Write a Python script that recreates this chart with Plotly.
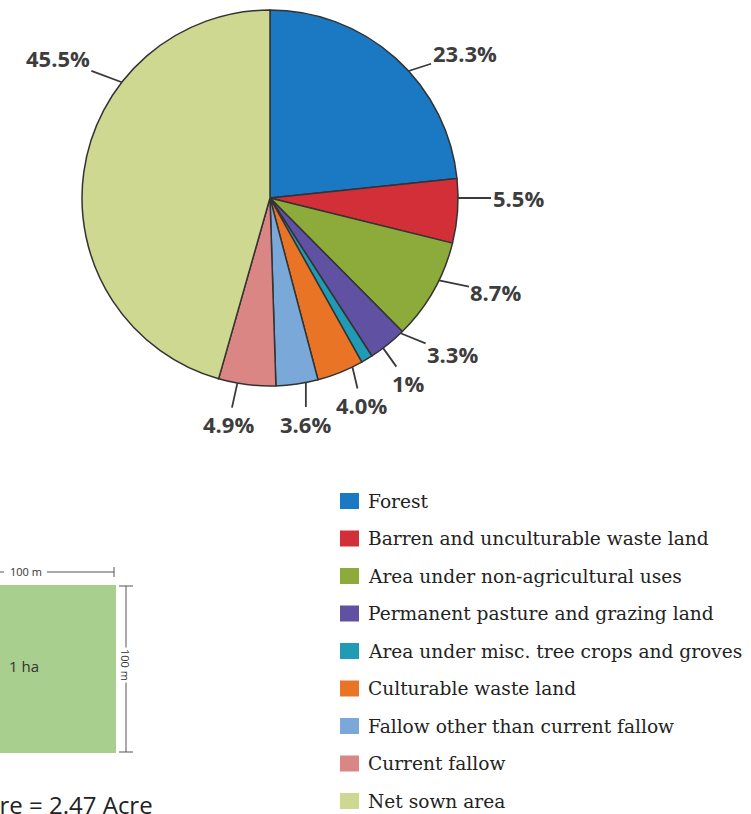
import math
import plotly.graph_objects as go

# ---------------- data ----------------
categories = [
    "Forest",
    "Barren and unculturable waste land",
    "Area under non-agricultural uses",
    "Permanent pasture and grazing land",
    "Area under misc. tree crops and groves",
    "Culturable waste land",
    "Fallow other than current fallow",
    "Current fallow",
    "Net sown area",
]
shares = [23.3, 5.5, 8.7, 3.3, 1.0, 4.0, 3.6, 4.9, 45.5]
share_labels = ["23.3%", "5.5%", "8.7%", "3.3%", "1%", "4.0%", "3.6%", "4.9%", "45.5%"]
colors = ["#1b78c2", "#d22f38", "#8dab3b", "#6151a3", "#1f9bb6",
          "#ea7426", "#7aa8d8", "#d98684", "#cfd891"]

hectare_text = "1 ha"
side_text = "100 m"
conversion_text = "1 Hectare = 2.47 Acre"

# ---------------- layout constants ----------------
W, H = 751, 814
CX, CY, R = 270, 198, 188          # pie centre / radius in pixels
# where each leader line meets the rim (deg clockwise from 12 o'clock) and label offset (px)
leader_angle = [47.5, 90, 116, 136, 143, 154, 169, 190, 308]
label_offset = [(56, -18), (60, 0), (57, 12), (52, 21), (25, 35), (9, 38), (0, 41), (-9, 41), (-64, -24)]


def px(x):
    return x / W


def py(y):
    return 1 - y / H


fig = go.Figure()
fig.add_trace(go.Pie(
    labels=categories,
    values=shares,
    sort=False,
    direction="clockwise",
    rotation=0,
    marker=dict(colors=colors, line=dict(color="#333333", width=1.5)),
    textinfo="none",
    hoverinfo="label+percent",
    showlegend=False,
    domain=dict(x=[px(CX - R), px(CX + R)], y=[py(CY + R), py(CY - R)]),
))

annotations = []
shapes = []

# pie labels with leader lines
for lab, ang, (ox, oy) in zip(share_labels, leader_angle, label_offset):
    a = math.radians(ang)
    ex = CX + R * math.sin(a)
    ey = CY - R * math.cos(a)
    annotations.append(dict(
        x=px(ex), y=py(ey), xref="paper", yref="paper",
        text=lab, showarrow=True, arrowhead=0, arrowwidth=1.8, arrowcolor="#3a3a3a",
        ax=ox, ay=oy, standoff=0, startstandoff=0,
        font=dict(family="Open Sans", size=22, color="#3d3d3d", weight=700),
    ))

# legend (manual)
LEG_Y0, LEG_DY = 501, 37.5
for i, (cat, col) in enumerate(zip(categories, colors)):
    yc = LEG_Y0 + i * LEG_DY
    shapes.append(dict(type="rect", xref="paper", yref="paper",
                       x0=px(340), x1=px(359), y0=py(yc + 8), y1=py(yc - 8),
                       fillcolor=col, line=dict(width=0)))
    annotations.append(dict(x=px(366), y=py(yc), xref="paper", yref="paper",
                            xanchor="left", yanchor="middle", showarrow=False,
                            text=cat, font=dict(family="DejaVu Serif", size=18.6, color="#222222")))

# 1 ha diagram
shapes.append(dict(type="rect", xref="paper", yref="paper",
                   x0=px(-5), x1=px(116), y0=py(753), y1=py(585),
                   fillcolor="#a9cf8e", line=dict(width=0)))
annotations.append(dict(x=px(24), y=py(666), xref="paper", yref="paper", showarrow=False,
                        xanchor="center", yanchor="middle",
                        text=hectare_text, font=dict(family="Open Sans", size=15, color="#333333")))
# top dimension
shapes.append(dict(type="line", xref="paper", yref="paper", x0=px(-2), x1=px(4), y0=py(572), y1=py(572),
                   line=dict(color="#555555", width=1)))
shapes.append(dict(type="line", xref="paper", yref="paper", x0=px(47), x1=px(114), y0=py(572), y1=py(572),
                   line=dict(color="#555555", width=1)))
shapes.append(dict(type="line", xref="paper", yref="paper", x0=px(114), x1=px(114), y0=py(567), y1=py(577),
                   line=dict(color="#555555", width=1)))
annotations.append(dict(x=px(26), y=py(571), xref="paper", yref="paper", showarrow=False,
                        xanchor="center", yanchor="middle",
                        text=side_text, font=dict(family="Open Sans", size=11, color="#333333")))
# right dimension
shapes.append(dict(type="line", xref="paper", yref="paper", x0=px(126), x1=px(126), y0=py(586), y1=py(752),
                   line=dict(color="#555555", width=1)))
for yy in (586, 752):
    shapes.append(dict(type="line", xref="paper", yref="paper", x0=px(119), x1=px(133), y0=py(yy), y1=py(yy),
                       line=dict(color="#555555", width=1)))
annotations.append(dict(x=px(126), y=py(665), xref="paper", yref="paper", showarrow=False,
                        xanchor="center", yanchor="middle",
                        text=side_text, textangle=90, bgcolor="white",
                        font=dict(family="Open Sans", size=11, color="#333333")))
# conversion text (cut at the left edge like the reference)
annotations.append(dict(x=px(155), y=py(786), xref="paper", yref="paper", showarrow=False,
                        xanchor="right", yanchor="top",
                        text=conversion_text, font=dict(family="Open Sans", size=24, color="#222222")))

fig.update_layout(
    width=W, height=H,
    margin=dict(l=0, r=0, t=0, b=0),
    paper_bgcolor="white", plot_bgcolor="white",
    annotations=annotations, shapes=shapes,
    showlegend=False,
)

fig.write_html("out.html")
